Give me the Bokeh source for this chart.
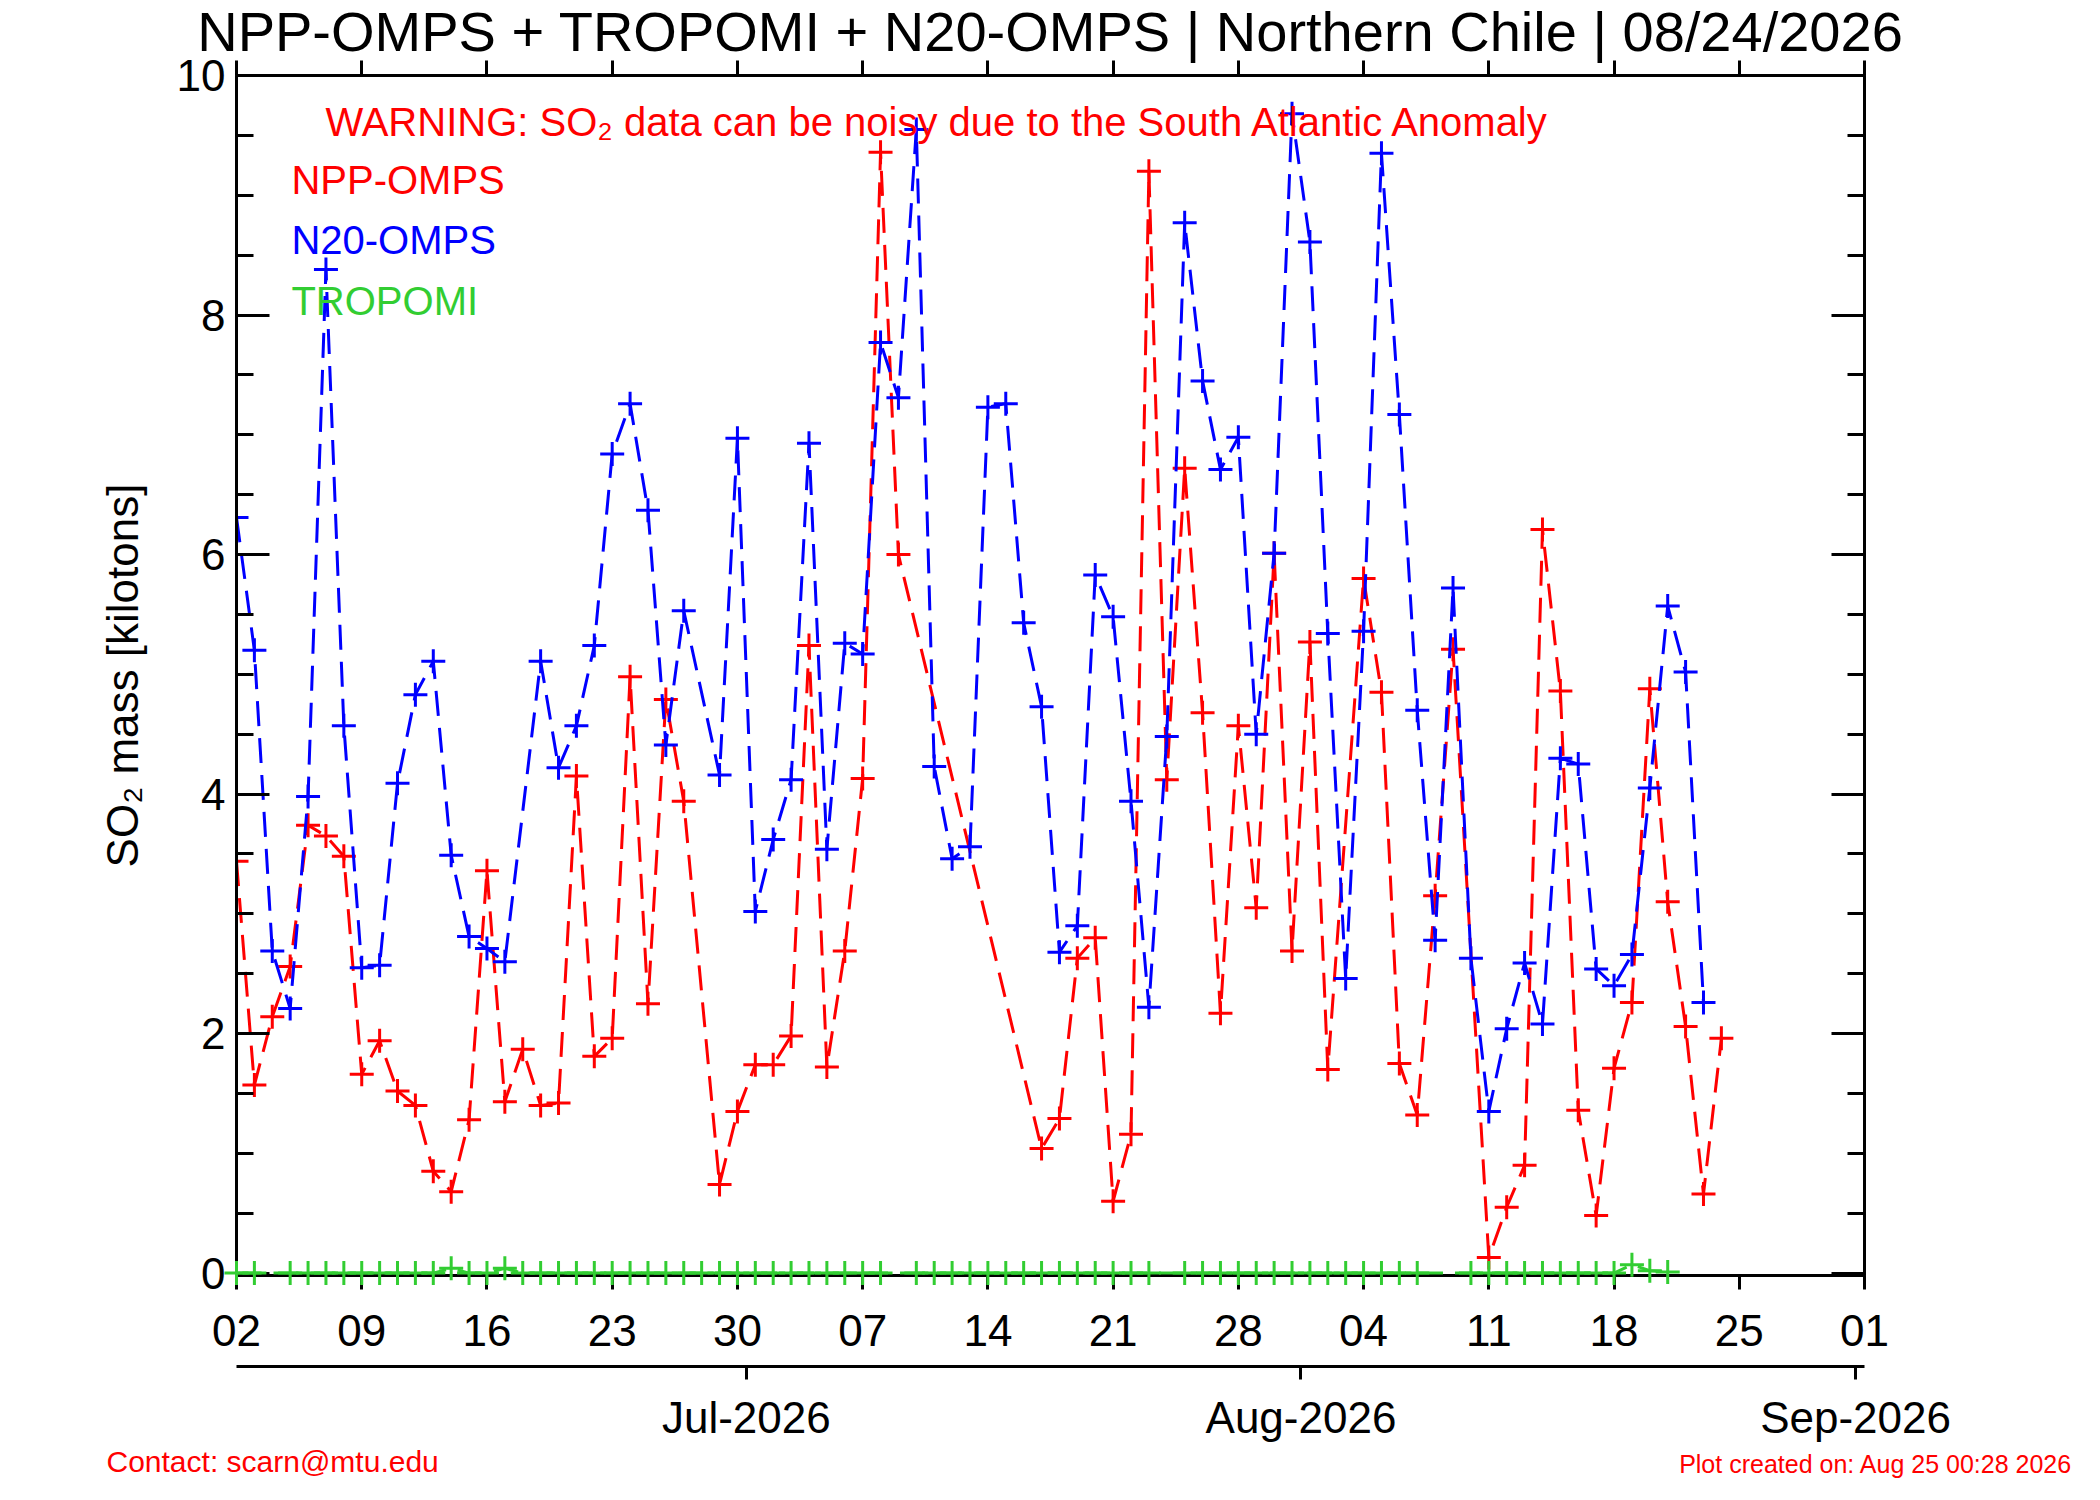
import pandas as pd
from bokeh.plotting import figure
from bokeh.models import (Range1d, FixedTicker, SingleIntervalTicker, LinearAxis,
                          DatetimeAxis, DatetimeTickFormatter, Label, ColumnDataSource)
from bokeh.core.properties import value
from bokeh.embed import file_html
from bokeh.resources import INLINE

# ---------------- data (one value per day from START, None = no data) ----------------
START = "2026-06-02"

npp_omps = [3.44, 1.57, 2.14, 2.56, 3.74, 3.65, 3.48, 1.66, 1.94, 1.52,
            1.40, 0.85, 0.68, 1.28, 3.36, 1.43, 1.87, 1.40, 1.42, 4.15,
            1.81, 1.96, 4.98, 2.25, 4.79, 3.94, None, 0.74, 1.35, 1.74,
            1.74, 1.98, 5.24, 1.72, 2.69, 4.13, 9.36, 6.00, None, None,
            None, None, None, None, None, 1.04, 1.29, 2.63, 2.80, 0.60,
            1.16, 9.20, 4.12, 6.72, 4.68, 2.17, 4.57, 3.05, 6.01, 2.69,
            5.27, 1.70, None, 5.80, 4.85, 1.75, 1.32, 3.15, 5.21, None,
            0.13, 0.55, 0.90, 6.21, 4.86, 1.36, 0.48, 1.71, 2.26, 4.88,
            3.10, 2.06, 0.66, 1.96]

n20_omps = [6.31, 5.20, 2.69, 2.21, 3.98, 8.38, 4.57, 2.55, 2.57, 4.09,
            4.83, 5.11, 3.49, 2.81, 2.71, 2.60, None, 5.11, 4.22, 4.57,
            5.24, 6.84, 7.26, 6.37, 4.41, 5.53, None, 4.16, 6.97, 3.02,
            3.62, 4.12, 6.93, 3.54, 5.26, 5.17, 7.77, 7.31, 9.55, 4.23,
            3.46, 3.56, 7.23, 7.26, 5.43, 4.73, 2.68, 2.90, 5.83, 5.48,
            3.94, 2.22, 4.48, 8.77, 7.45, 6.71, 6.98, 4.50, 6.01, 9.68,
            8.61, 5.34, 2.46, 5.36, 9.35, 7.17, 4.70, 2.78, 5.72, 2.63,
            1.35, 2.04, 2.59, 2.08, 4.30, 4.25, 2.54, 2.40, 2.66, 4.05,
            5.57, 5.02, 2.26]

tropomi = [0.00, 0.00, None, 0.00, 0.00, 0.00, 0.00, 0.00, 0.00, 0.00,
           0.00, 0.00, 0.04, 0.00, 0.00, 0.04, 0.00, 0.00, 0.00, 0.00,
           0.00, 0.00, 0.00, 0.00, 0.00, 0.00, 0.00, 0.00, 0.00, 0.00,
           0.00, 0.00, 0.00, 0.00, 0.00, 0.00, 0.00, None, 0.00, 0.00,
           0.00, 0.00, 0.00, 0.00, 0.00, 0.00, 0.00, 0.00, 0.00, 0.00,
           0.00, 0.00, None, 0.00, 0.00, 0.00, 0.00, 0.00, 0.00, 0.00,
           0.00, 0.00, 0.00, 0.00, 0.00, 0.00, 0.00, None, None, 0.00,
           0.00, 0.00, 0.00, 0.00, 0.00, 0.00, 0.00, 0.00, 0.07, 0.02,
           0.01]

week_ticks = ["2026-06-02", "2026-06-09", "2026-06-16", "2026-06-23", "2026-06-30",
              "2026-07-07", "2026-07-14", "2026-07-21", "2026-07-28", "2026-08-04",
              "2026-08-11", "2026-08-18", "2026-08-25", "2026-09-01"]
month_ticks = ["2026-07-01", "2026-08-01", "2026-09-01"]
y_ticks = [0, 2, 4, 6, 8, 10]

TITLE = "NPP-OMPS + TROPOMI + N20-OMPS | Northern Chile | 08/24/2026"
WARNING = "WARNING: SO\u2082 data can be noisy due to the South Atlantic Anomaly"
YLABEL = "SO\u2082 mass [kilotons]"
CONTACT = "Contact: scarn@mtu.edu"
CREATED = "Plot created on: Aug 25 00:28 2026"

# ---------------- helpers ----------------
FONT = "Liberation Sans"
RED, BLUE, GREEN = "#ff0000", "#0000ff", "#32cd32"
t0 = pd.Timestamp(START)


def ms(ts):
    return pd.Timestamp(ts).value / 1e6


def day(d):
    return ms(t0 + pd.Timedelta(days=d))


def series_source(values):
    dates, vals = [], []
    for i, v in enumerate(values):
        if v is not None:
            dates.append(t0 + pd.Timedelta(days=i))
            vals.append(v)
    return ColumnDataSource(data=dict(x=dates, y=vals))


W, H = 2084, 1484
MAIN_H = 1440
p = figure(frame_width=1628, frame_height=1200, output_backend="svg", toolbar_location=None,
           x_axis_type=None, y_axis_type=None,
           x_range=Range1d(ms(week_ticks[0]), ms(week_ticks[-1])),
           y_range=Range1d(y_ticks[0] - 0.02, y_ticks[-1]),
           min_border_left=236, min_border_right=W - 236 - 1628,
           min_border_top=75, min_border_bottom=MAIN_H - 75 - 1200)
p.background_fill_color = "white"
p.border_fill_color = "white"
p.outline_line_color = "black"
p.outline_line_width = 3

# title
p.title.text = TITLE
p.title.text_font = FONT
p.title.text_font_size = "56px"
p.title.text_font_style = "normal"
p.title.text_color = "black"
p.title.align = "center"
p.title.standoff = -5

week_ms = [ms(t) for t in week_ticks]
month_ms = [ms(t) - 12 * 3600 * 1000 for t in month_ticks]


def style_ticks(ax, tin, tout, mtin=0, mtout=0):
    ax.major_tick_in = tin
    ax.major_tick_out = tout
    ax.minor_tick_in = mtin
    ax.minor_tick_out = mtout
    ax.major_tick_line_width = 3
    ax.minor_tick_line_width = 3
    ax.axis_line_width = 3
    ax.major_tick_line_color = "black"
    ax.minor_tick_line_color = "black"
    ax.axis_line_color = "black"


# left axis
yl = LinearAxis(ticker=SingleIntervalTicker(interval=2, num_minor_ticks=4))
style_ticks(yl, 33, 0, 17, 0)
yl.major_label_standoff = 11
yl.major_label_text_font = FONT
yl.major_label_text_font_size = "44px"
yl.major_label_text_color = "black"
yl.axis_label = YLABEL
yl.axis_label_text_font = FONT
yl.axis_label_text_font_size = "44px"
yl.axis_label_text_font_style = "normal"
yl.axis_label_text_color = "black"
yl.axis_label_standoff = 27
p.add_layout(yl, "left")

# right axis (ticks only)
yr = LinearAxis(ticker=SingleIntervalTicker(interval=2, num_minor_ticks=4))
style_ticks(yr, 33, 0, 17, 0)
yr.major_label_text_font_size = "0px"
yr.major_label_text_color = None
p.add_layout(yr, "right")

# top axis (outward ticks only)
xt = LinearAxis(ticker=FixedTicker(ticks=week_ms))
style_ticks(xt, 0, 15)
xt.major_label_standoff = 0
xt.major_label_text_font_size = "0px"
xt.major_label_text_color = None
p.add_layout(xt, "above")

# bottom axis: day of month
fmt = "%d"
xb = DatetimeAxis(ticker=FixedTicker(ticks=week_ms),
                  formatter=DatetimeTickFormatter(days=fmt, months=fmt, years=fmt,
                                                  hours=fmt, minutes=fmt))
style_ticks(xb, 0, 14)
xb.major_label_standoff = 25
xb.major_label_text_font = FONT
xb.major_label_text_font_size = "44px"
xb.major_label_text_color = "black"
p.add_layout(xb, "below")

# invisible spacer between the two date axes (one white tick where no label sits)
spacer_tick = day(5.5)
sp = LinearAxis(ticker=FixedTicker(ticks=[spacer_tick]))
sp.axis_line_color = None
sp.major_tick_line_color = "white"
sp.major_tick_line_width = 1
sp.minor_tick_line_color = None
sp.major_tick_in = 0
sp.major_tick_out = 18
sp.minor_tick_out = 0
sp.major_label_standoff = 0
sp.major_label_text_font_size = "0px"
sp.major_label_text_color = None
sp.major_label_overrides = {spacer_tick: ""}
p.add_layout(sp, "below")

# second bottom axis: months
xm = DatetimeAxis(ticker=FixedTicker(ticks=month_ms))
xm.major_label_overrides = {m: pd.Timestamp(t).strftime("%b-%Y")
                            for m, t in zip(month_ms, month_ticks)}
style_ticks(xm, 0, 13)
xm.major_label_standoff = 13
xm.major_label_text_font = FONT
xm.major_label_text_font_size = "44px"
xm.major_label_text_color = "black"
p.add_layout(xm, "below")

# ---------------- series ----------------
styles = [(npp_omps, RED, "glyph"), (tropomi, GREEN, "overlay"), (n20_omps, BLUE, "glyph")]
for values, color, level in styles:
    src = series_source(values)
    p.line("x", "y", source=src, line_color=color, line_width=3, line_dash="25 12",
           level=level)
    p.scatter("x", "y", source=src, marker="cross", size=24, line_color=color,
              line_width=3, level=level)

# ---------------- texts inside the frame ----------------
p.add_layout(Label(x=day(4.97), y=9.615, text=WARNING, text_align="left",
                   text_baseline="alphabetic", text_font=FONT, text_font_size="40px",
                   text_color=RED))
for txt, col, yy in [("NPP-OMPS", RED, 9.125), ("N20-OMPS", BLUE, 8.625),
                     ("TROPOMI", GREEN, 8.12)]:
    p.add_layout(Label(x=day(3.07), y=yy, text=txt, text_align="left",
                       text_baseline="alphabetic", text_font=FONT, text_font_size="40px",
                       text_color=col))

# ---------------- footer strip (separate root, full-width frame) ----------------
FH = H - MAIN_H
foot = figure(width=W, height=FH, output_backend="svg", toolbar_location=None,
              x_axis_type=None, y_axis_type=None,
              x_range=Range1d(0, W), y_range=Range1d(0, FH), min_border=0)
foot.outline_line_color = None
foot.background_fill_color = "white"
foot.border_fill_color = "white"
foot.text(x=[106], y=[27], text=[CONTACT], text_font=value(FONT), text_font_size="30px",
          text_color=RED, text_align="left", text_baseline="alphabetic")
foot.text(x=[2072], y=[25], text=[CREATED], text_font=value(FONT), text_font_size="25px",
          text_color=RED, text_align="right", text_baseline="alphabetic")

open("out.html", "w").write(file_html([p, foot], INLINE))
